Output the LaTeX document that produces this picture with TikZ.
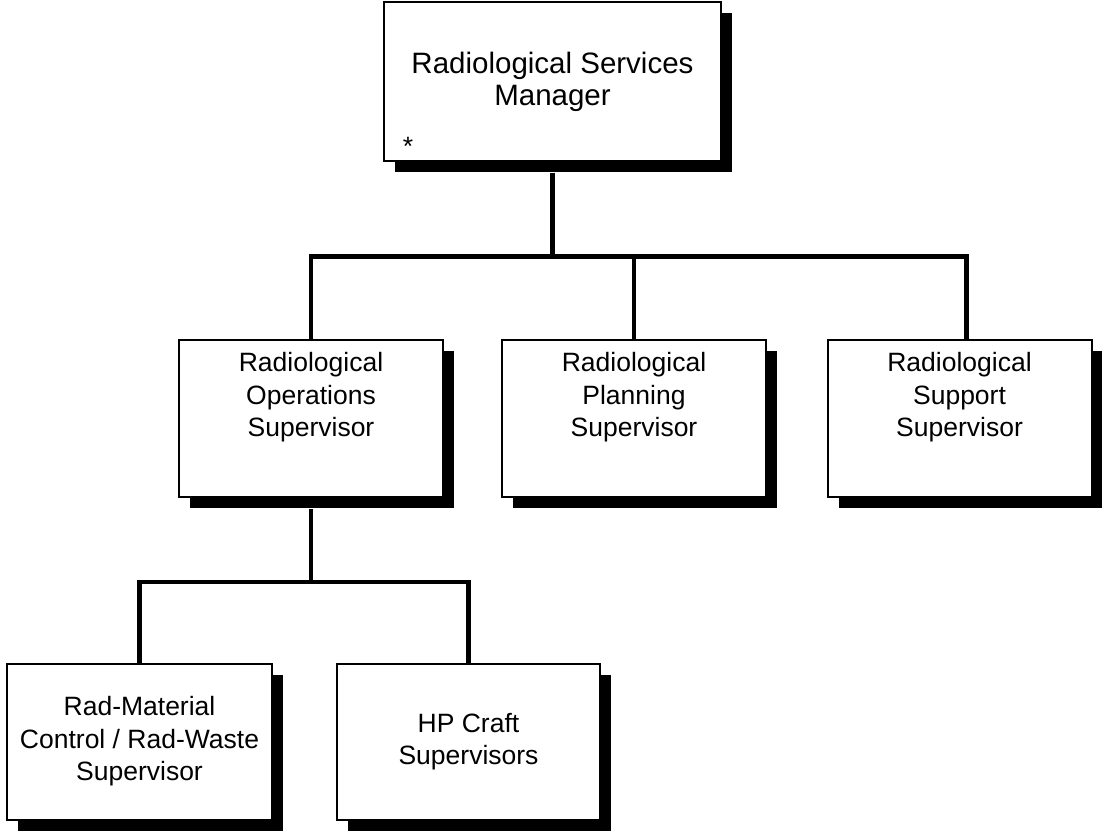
\documentclass[tikz,border=0pt]{standalone}
\usepackage{fontspec}
\setmainfont{Liberation Sans}
\usetikzlibrary{shadows}
\tikzset{
  orgbox/.style={draw=black, line width=2pt, fill=white, inner sep=0pt,
    align=center, minimum width=264pt, minimum height=157pt,
    font=\fontsize{26.5}{32.5}\selectfont,
    drop shadow={shadow xshift=11pt, shadow yshift=-11pt, fill=black, opacity=1}},
  raised/.style={text depth=48pt},
  conn/.style={line width=4.5pt, line join=miter}
}
\begin{document}
\begin{tikzpicture}[x=1pt, y=-1pt]
  \useasboundingbox (0,0) rectangle (1102,832);

  % manager
  \node[orgbox, minimum width=337pt, minimum height=158pt,
        font=\fontsize{29.5}{32}\selectfont] (mgr) at (552.5,81.5)
        {Radiological Services\\Manager};
  \node[anchor=base, font=\fontsize{26.5}{32}\selectfont] (mark) at (408,155) {*};

  % supervisors
  \node[orgbox, raised] (ops)  at (311,418.5)   {Radiological\\Operations\\Supervisor};
  \node[orgbox, raised] (plan) at (634,418.5)   {Radiological\\Planning\\Supervisor};
  \node[orgbox, raised] (supp) at (959.5,418.5) {Radiological\\Support\\Supervisor};

  % operations staff
  \node[orgbox, minimum width=265pt, minimum height=156pt] (rmc) at (139.5,741.5)
        {Rad-Material\\Control / Rad-Waste\\Supervisor};
  \node[orgbox, minimum width=263pt, minimum height=156pt] (hp) at (468.5,741.5)
        {HP Craft\\Supervisors};

  % reporting lines
  \coordinate (busA) at (0,256.5);
  \coordinate (busB) at (0,582);
  \draw[conn] ([yshift=-11pt]mgr.south) -- (mgr.south |- busA);
  \draw[conn] (ops.north) |- ([xshift=7pt]supp.north |- busA) -- ([xshift=7pt]supp.north);
  \draw[conn] (plan.north) -- (plan.north |- busA);
  \draw[conn] ([yshift=-11pt]ops.south) -- (ops.south |- busB);
  \draw[conn] (rmc.north) |- (hp.north |- busB) -- (hp.north);
\end{tikzpicture}
\end{document}
